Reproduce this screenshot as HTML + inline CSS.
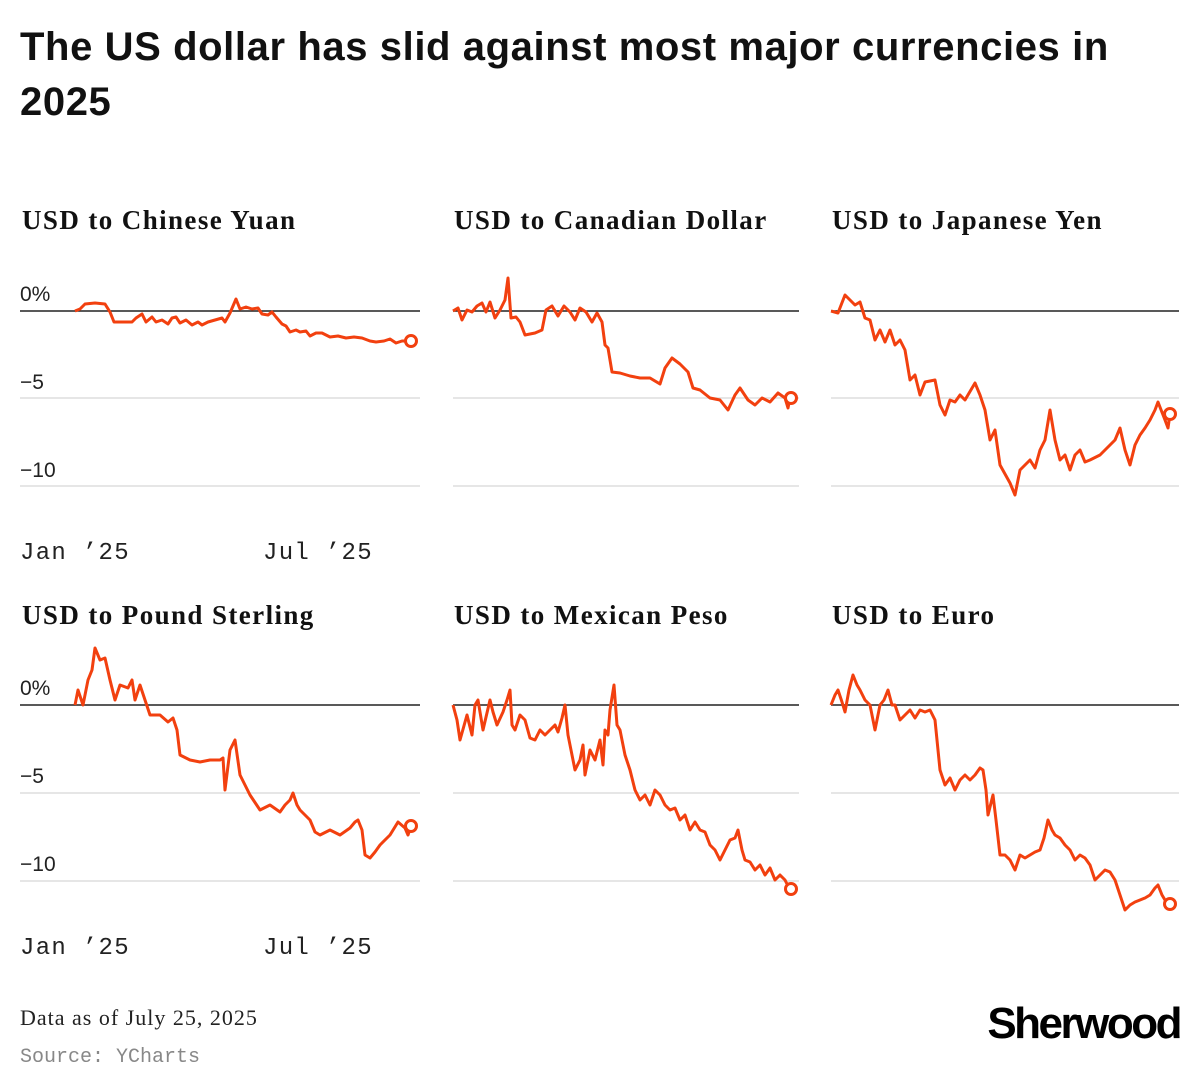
<!DOCTYPE html>
<html><head><meta charset="utf-8"><style>
body{margin:0;background:#fff;width:1199px;height:1089px;overflow:hidden}
svg{display:block}
.t{font-family:"Liberation Sans",sans-serif;font-weight:bold;font-size:40px;letter-spacing:0.6px;fill:#111}
.h{font-family:"Liberation Serif",serif;font-weight:bold;font-size:27px;letter-spacing:1.4px;fill:#111}
.a{font-family:"Liberation Sans",sans-serif;font-size:21px;fill:#222}
.m{font-family:"Liberation Mono",monospace;font-size:24px;letter-spacing:1.3px;fill:#222}
.l{fill:none;stroke:#f2400f;stroke-width:3;stroke-linejoin:round}
.g{stroke:#ddd;stroke-width:1.5}
.z{stroke:#222;stroke-width:1.5}
</style></head><body>
<svg width="1199" height="1089" viewBox="0 0 1199 1089">
<text class="t" x="20" y="60">The US dollar has slid against most major currencies in</text>
<text class="t" x="20" y="115">2025</text>
<text class="h" x="22" y="229">USD to Chinese Yuan</text>
<text class="h" x="454" y="229">USD to Canadian Dollar</text>
<text class="h" x="832" y="229">USD to Japanese Yen</text>
<text class="h" x="22" y="624">USD to Pound Sterling</text>
<text class="h" x="454" y="624">USD to Mexican Peso</text>
<text class="h" x="832" y="624">USD to Euro</text>
<g>
<line class="z" x1="20" y1="311" x2="420" y2="311"/><line class="g" x1="20" y1="398" x2="420" y2="398"/><line class="g" x1="20" y1="486" x2="420" y2="486"/>
<line class="z" x1="453" y1="311" x2="799" y2="311"/><line class="g" x1="453" y1="398" x2="799" y2="398"/><line class="g" x1="453" y1="486" x2="799" y2="486"/>
<line class="z" x1="831" y1="311" x2="1179" y2="311"/><line class="g" x1="831" y1="398" x2="1179" y2="398"/><line class="g" x1="831" y1="486" x2="1179" y2="486"/>
<line class="z" x1="20" y1="705" x2="420" y2="705"/><line class="g" x1="20" y1="793" x2="420" y2="793"/><line class="g" x1="20" y1="881" x2="420" y2="881"/>
<line class="z" x1="453" y1="705" x2="799" y2="705"/><line class="g" x1="453" y1="793" x2="799" y2="793"/><line class="g" x1="453" y1="881" x2="799" y2="881"/>
<line class="z" x1="831" y1="705" x2="1179" y2="705"/><line class="g" x1="831" y1="793" x2="1179" y2="793"/><line class="g" x1="831" y1="881" x2="1179" y2="881"/>
</g>
<text class="a" x="20" y="301">0%</text><text class="a" x="20" y="389">−5</text><text class="a" x="20" y="477">−10</text>
<text class="a" x="20" y="695">0%</text><text class="a" x="20" y="783">−5</text><text class="a" x="20" y="871">−10</text>
<text class="m" x="20" y="559">Jan ’25</text><text class="m" x="263" y="559">Jul ’25</text>
<text class="m" x="20" y="954">Jan ’25</text><text class="m" x="263" y="954">Jul ’25</text>
<polyline class="l" points="75,311 80,309 85,304 95,303 105,304 110,312 114,322 120,322 132,322 136,318 142,314 146,322 152,317 156,322 162,320 168,324 172,318 176,317 180,323 186,320 192,325 198,322 202,325 208,322 215,320 222,318 225,322 230,313 236,299 240,309 246,307 252,309 258,308 262,314 268,315 272,312 276,317 282,324 286,326 290,332 296,330 300,332 306,331 310,336 316,333 322,333 330,337 338,336 346,338 354,337 362,338 370,341 376,342 384,341 390,339 396,343 402,341 408,341"/>
<polyline class="l" points="453,311 458,308 462,320 467,310 472,312 477,306 482,303 486,312 490,302 495,318 500,310 505,300 508,278 511,318 516,317 520,322 525,335 535,333 542,330 546,310 552,306 558,316 564,306 570,312 575,320 580,308 586,312 592,322 597,313 602,322 605,345 608,348 612,372 620,373 630,376 640,378 650,378 660,384 665,368 672,358 680,364 688,372 693,388 700,390 710,398 720,400 728,410 735,395 740,388 748,400 755,405 762,398 770,402 778,393 785,398 788,408 790,398"/>
<polyline class="l" points="831,311 838,313 845,295 850,300 855,305 860,302 865,318 870,320 875,340 880,330 885,342 890,330 895,345 900,340 905,350 910,380 915,375 920,395 925,382 935,380 940,405 945,415 950,400 955,402 960,395 965,400 975,383 980,395 985,410 990,440 995,430 1000,465 1010,483 1015,495 1020,470 1030,460 1035,468 1040,450 1045,440 1050,410 1055,440 1060,460 1065,455 1070,470 1075,455 1080,450 1085,462 1090,460 1100,455 1105,450 1110,445 1115,440 1120,428 1125,450 1130,465 1135,445 1140,435 1145,428 1150,420 1155,410 1158,402 1165,420 1168,428 1170,414"/>
<polyline class="l" points="75,705 78,690 83,705 88,680 92,670 95,648 100,660 105,658 110,680 115,700 120,685 128,688 132,680 135,700 140,685 145,700 150,715 160,715 168,722 173,718 177,730 180,755 190,760 200,762 210,760 220,760 223,758 225,790 230,750 235,740 240,775 245,785 250,795 260,810 270,805 280,812 285,805 290,800 293,793 297,805 300,810 310,820 315,832 320,835 330,830 340,835 350,828 355,822 358,820 362,830 365,855 370,858 375,852 380,845 390,835 398,822 405,828 408,835 411,826"/>
<polyline class="l" points="453,705 457,720 460,740 467,715 472,735 475,705 478,700 483,730 490,700 493,712 497,725 503,712 507,700 510,690 512,725 515,730 520,715 525,720 530,738 535,740 540,730 545,735 550,730 555,725 558,732 562,718 565,705 568,735 570,745 575,770 580,760 583,745 585,775 590,750 595,760 600,740 603,765 605,730 608,735 610,710 614,685 617,725 620,730 625,755 630,770 635,790 640,800 645,795 650,805 655,790 660,795 665,805 670,810 675,808 680,820 685,815 690,830 695,822 700,830 705,832 710,845 715,850 720,860 725,850 730,840 735,838 738,830 742,850 745,860 750,862 755,870 760,865 765,875 770,868 775,880 780,875 785,880 789,888"/>
<polyline class="l" points="831,705 835,695 838,690 842,702 845,712 849,690 853,675 857,685 860,690 865,700 870,705 875,730 880,705 884,700 888,690 892,705 895,705 900,720 905,715 910,710 915,718 920,710 925,712 930,710 935,720 940,770 945,785 950,778 955,790 960,780 965,775 970,780 975,775 980,768 983,770 986,790 988,815 993,795 996,820 1000,855 1005,855 1010,860 1015,870 1020,855 1025,858 1030,855 1035,852 1040,850 1044,838 1048,820 1052,830 1055,835 1060,838 1065,845 1070,850 1075,860 1080,855 1085,858 1090,865 1095,880 1100,875 1105,870 1110,872 1115,880 1120,895 1125,910 1130,905 1135,902 1140,900 1145,898 1150,895 1155,888 1158,885 1162,895 1165,900 1170,904"/>
<g fill="#fff" stroke="#f2400f" stroke-width="3">
<circle cx="411" cy="341" r="5.5"/><circle cx="791" cy="398" r="5.5"/><circle cx="1170" cy="414" r="5.5"/>
<circle cx="411" cy="826" r="5.5"/><circle cx="791" cy="889" r="5.5"/><circle cx="1170" cy="904" r="5.5"/>
</g>
<text x="20" y="1025" style="font-family:'Liberation Serif',serif;font-size:22px;letter-spacing:1px;fill:#222">Data as of July 25, 2025</text>
<text x="20" y="1062" style="font-family:'Liberation Mono',monospace;font-size:20px;fill:#888">Source: YCharts</text>
<text x="1180" y="1038" text-anchor="end" style="font-family:'Liberation Sans',sans-serif;font-weight:bold;font-size:44px;letter-spacing:-2.5px;fill:#000">Sherwood</text>
</svg>
</body></html>
